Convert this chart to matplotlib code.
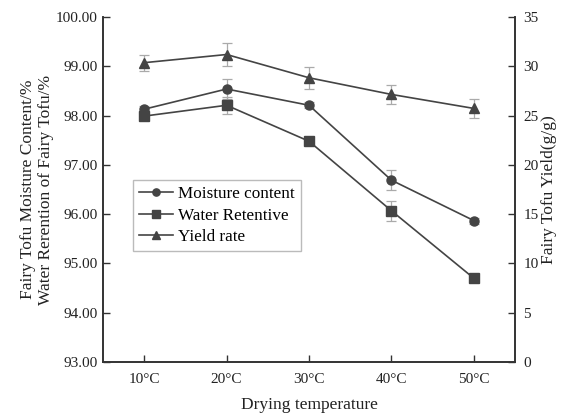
import matplotlib
matplotlib.use("Agg")
import matplotlib.pyplot as plt

plt.rcParams["font.family"] = ["Liberation Serif", "DejaVu Serif"]

# Data
temps = ["10°C", "20°C", "30°C", "40°C", "50°C"]
moisture = [98.13, 98.54, 98.21, 96.69, 95.87]
moisture_err = [0.06, 0.21, 0.06, 0.20, 0.06]
water = [97.99, 98.21, 97.48, 96.07, 94.70]
water_err = [0.06, 0.17, 0.05, 0.20, 0.06]
yield_rate = [30.37, 31.2, 28.84, 27.15, 25.73]
yield_err = [0.8, 1.2, 1.1, 1.0, 1.0]

line_c = "#444444"
err_c = "#aaaaaa"

fig = plt.figure(figsize=(5.61, 4.16), dpi=100)
ax = fig.add_axes([0.1836, 0.1298, 0.7344, 0.8292])
ax2 = ax.twinx()

x = list(range(len(temps)))
common = dict(color=line_c, lw=1.2, ms=6.5, ecolor=err_c, elinewidth=0.9,
              capsize=3.5, capthick=0.9)
h1 = ax.errorbar(x, moisture, yerr=moisture_err, marker="o", **common)
h2 = ax.errorbar(x, water, yerr=water_err, marker="s", **common)
h3 = ax2.errorbar(x, yield_rate, yerr=yield_err, marker="^", **common)

ax.set_xlim(-0.5, 4.5)
ax.set_ylim(93, 100)
ax2.set_ylim(0, 35)
ax.set_xticks(x)
ax.set_xticklabels(temps)
ax.set_yticks([93 + i for i in range(8)])
ax.set_yticklabels([f"{93 + i:.2f}" for i in range(8)])
ax2.set_yticks(range(0, 36, 5))

for a in (ax, ax2):
    a.spines["top"].set_visible(False)
    for s in a.spines.values():
        s.set_color("#333333")
        s.set_linewidth(1.2)
    a.tick_params(direction="in", length=5, width=1.0, colors="#333333",
                  labelsize=11, labelcolor="#222222")
ax.tick_params(axis="x", pad=8)
ax.tick_params(axis="y", pad=4)
ax2.tick_params(axis="y", pad=6)

ax.set_xlabel("Drying temperature", fontsize=12.5, color="#222222", labelpad=8)
ax.set_ylabel("Fairy Tofu Moisture Content/%\nWater Rerention of Fairy Tofu/%",
              fontsize=12.5, color="#222222", linespacing=1.1)
ax.yaxis.set_label_coords(-0.12, 0.5)
ax2.set_ylabel("Fairy Tofu Yield(g/g)", fontsize=12.5, color="#222222")
ax2.yaxis.set_label_coords(1.063, 0.5)

leg = ax.legend([h1[0], h2[0], h3[0]], ["Moisture content", "Water Retentive", "Yield rate"],
                loc="upper left", bbox_to_anchor=(0.072, 0.527), fontsize=12.3,
                fancybox=False, framealpha=1, edgecolor="#bbbbbb", markerscale=0.8,
                handlelength=2.0, handletextpad=0.3, borderpad=0.35,
                labelspacing=0.32, borderaxespad=0)
leg.get_frame().set_linewidth(1.0)

fig.savefig("out.png", dpi=100)
